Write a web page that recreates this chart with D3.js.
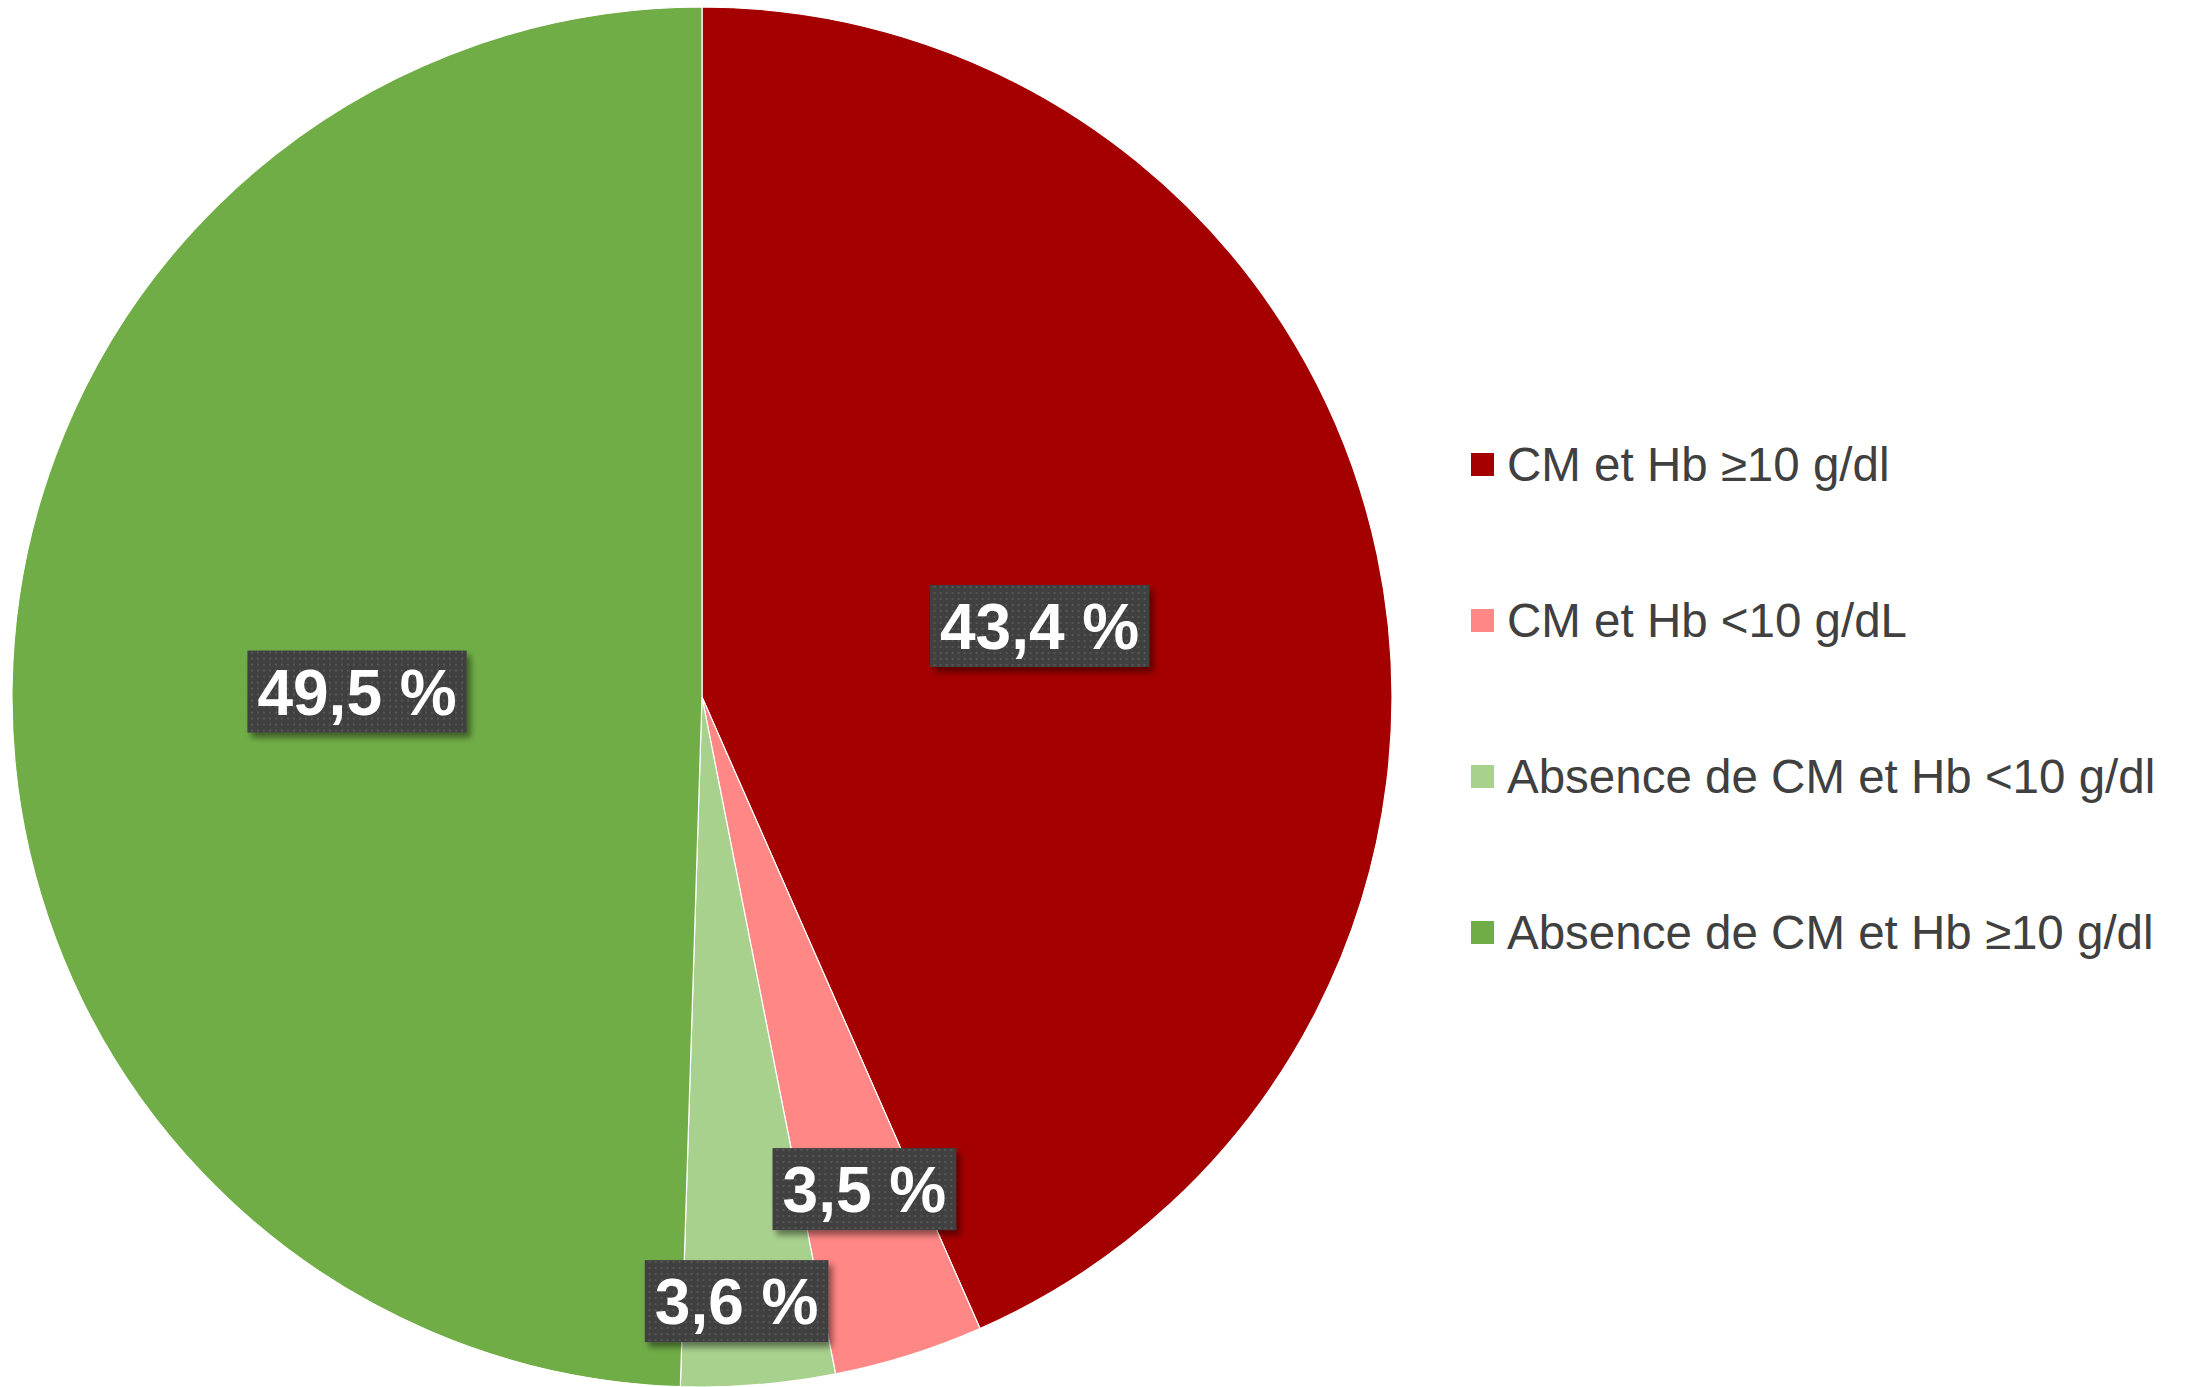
<!DOCTYPE html>
<html><head><meta charset="utf-8">
<script src="https://cdn.jsdelivr.net/npm/d3@7"></script>
<style>html,body{margin:0;padding:0;background:#fff;}svg{display:block;}</style>
</head><body>
<svg id="chart" width="2194" height="1387"></svg>
<script>
const categories = ["CM et Hb ≥10 g/dl", "CM et Hb <10 g/dL", "Absence de CM et Hb <10 g/dl", "Absence de CM et Hb ≥10 g/dl"];
const values = [43.4, 3.5, 3.6, 49.5];
const labels = ["43,4 %", "3,5 %", "3,6 %", "49,5 %"];
const colors = ["#A40000", "#FF8785", "#A9D18E", "#70AD47"];
const labelRadiusFrac = [0.5, 0.751, 0.877, 0.5];
const labelAngleShiftDeg = [0, -0.8, 1.4, 0];

const svg = d3.select("#chart");
const cx = 702, cy = 697, R = 690;

const defs = svg.append("defs");
const pat = defs.append("pattern").attr("id","dots").attr("patternUnits","userSpaceOnUse")
  .attr("width",6).attr("height",6);
pat.append("rect").attr("width",6).attr("height",6).attr("fill","#404040");
pat.append("rect").attr("x",2).attr("y",2).attr("width",2).attr("height",2).attr("fill","#575757");
const f = defs.append("filter").attr("id","shadow").attr("x","-20%").attr("y","-20%").attr("width","140%").attr("height","150%");
f.append("feDropShadow").attr("dx",4).attr("dy",5).attr("stdDeviation",3).attr("flood-color","#000").attr("flood-opacity",0.45);

const pie = d3.pie().sort(null).value(d => d)(values);
const arc = d3.arc().innerRadius(0).outerRadius(R);

const g = svg.append("g").attr("transform",`translate(${cx},${cy})`);
g.selectAll("path.slice").data(pie).enter().append("path")
  .attr("class","slice")
  .attr("d", arc)
  .attr("fill",(d,i)=>colors[i])
  .attr("stroke","#ffffff").attr("stroke-width",1.2);

pie.forEach((d,i)=>{
  const mid = (d.startAngle + d.endAngle)/2 + labelAngleShiftDeg[i]*Math.PI/180;
  const r = R*labelRadiusFrac[i];
  const x = Math.sin(mid)*r, y = -Math.cos(mid)*r;
  const lg = g.append("g").attr("transform",`translate(${x},${y})`);
  const rect = lg.append("rect").attr("fill","url(#dots)").attr("filter","url(#shadow)");
  const t = lg.append("text").text(labels[i])
    .attr("text-anchor","middle")
    .attr("y", 23)
    .attr("font-family","'Liberation Sans', Arial, sans-serif")
    .attr("font-weight","bold")
    .attr("font-size",64)
    .attr("fill","#ffffff");
  const bb = t.node().getBBox();
  const pw = bb.width + 20;
  rect.attr("x",-pw/2).attr("y",-41).attr("width",pw).attr("height",82);
});

const legX = 1471, legY0 = 481, legStep = 156;
const leg = svg.append("g");
categories.forEach((c,i)=>{
  const by = legY0 + i*legStep;
  leg.append("rect").attr("x",legX).attr("y",by-28).attr("width",23).attr("height",23).attr("fill",colors[i]);
  leg.append("text").text(c)
    .attr("x",1507).attr("y",by)
    .attr("font-family","'Liberation Sans', Arial, sans-serif")
    .attr("font-size",47.5)
    .attr("fill","#404040");
});
</script>
</body></html>
